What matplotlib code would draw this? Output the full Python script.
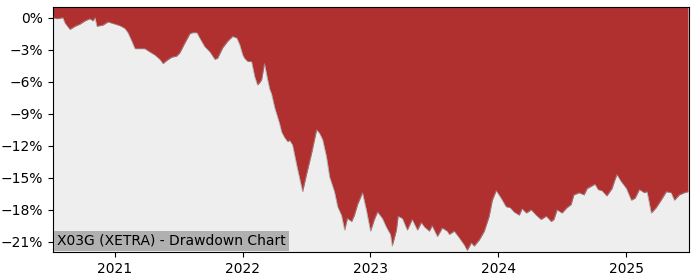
import matplotlib
matplotlib.use("Agg")
import matplotlib.pyplot as plt
import matplotlib.dates as mdates
import matplotlib.ticker as mticker
import pandas as pd

dates = [
    "2020-07-08", "2020-07-19", "2020-08-05", "2020-08-11", "2020-08-25", "2020-09-09",
    "2020-09-23", "2020-10-07", "2020-10-21", "2020-10-30", "2020-11-05", "2020-11-10",
    "2020-11-27", "2020-12-12", "2021-01-01", "2021-01-15", "2021-01-29", "2021-02-07",
    "2021-02-18", "2021-02-27", "2021-03-13", "2021-03-27", "2021-04-10", "2021-04-25",
    "2021-05-09", "2021-05-18", "2021-05-29", "2021-06-12", "2021-06-26", "2021-07-05",
    "2021-07-19", "2021-08-03", "2021-08-11", "2021-08-23", "2021-08-31", "2021-09-14",
    "2021-09-29", "2021-10-13", "2021-10-21", "2021-11-05", "2021-11-19", "2021-12-03",
    "2021-12-15", "2021-12-23", "2022-01-01", "2022-01-06", "2022-01-15", "2022-01-26",
    "2022-02-04", "2022-02-12", "2022-02-18", "2022-02-24", "2022-03-04", "2022-03-13",
    "2022-03-19", "2022-03-24", "2022-04-02", "2022-04-16", "2022-04-22", "2022-04-30",
    "2022-05-09", "2022-05-15", "2022-05-23", "2022-06-06", "2022-06-21", "2022-07-02",
    "2022-07-16", "2022-07-31", "2022-08-08", "2022-08-17", "2022-08-28", "2022-09-06",
    "2022-09-20", "2022-09-29", "2022-10-10", "2022-10-19", "2022-10-27", "2022-11-08",
    "2022-11-16", "2022-11-25", "2022-12-09", "2022-12-20", "2023-01-01", "2023-01-12",
    "2023-01-21", "2023-02-04", "2023-02-15", "2023-02-27", "2023-03-04", "2023-03-16",
    "2023-03-21", "2023-04-02", "2023-04-16", "2023-04-30", "2023-05-15", "2023-05-26",
    "2023-06-04", "2023-06-18", "2023-06-26", "2023-07-11", "2023-07-25", "2023-08-08",
    "2023-08-14", "2023-08-28", "2023-09-11", "2023-09-26", "2023-10-04", "2023-10-16",
    "2023-10-24", "2023-11-08", "2023-11-22", "2023-12-06", "2023-12-15", "2023-12-26",
    "2024-01-09", "2024-01-23", "2024-02-04", "2024-02-15", "2024-03-01", "2024-03-09",
    "2024-03-21", "2024-04-04", "2024-04-18", "2024-05-02", "2024-05-17", "2024-05-31",
    "2024-06-08", "2024-06-17", "2024-07-01", "2024-07-15", "2024-07-27", "2024-08-04",
    "2024-08-19", "2024-09-02", "2024-09-11", "2024-09-22", "2024-10-03", "2024-10-12",
    "2024-10-23", "2024-11-06", "2024-11-21", "2024-11-29", "2024-12-05", "2024-12-16",
    "2025-01-01", "2025-01-15", "2025-01-26", "2025-02-07", "2025-02-21", "2025-03-01",
    "2025-03-13", "2025-03-27", "2025-04-10", "2025-04-25", "2025-05-09", "2025-05-18",
    "2025-06-01", "2025-06-15", "2025-06-26",
]

drawdown = [
    0.0, -0.1, 0.0, -0.5, -1.1, -0.8,
    -0.6, -0.3, -0.1, -0.3, 0.0, -0.8,
    -0.7, -0.4, -0.6, -0.75, -1.0, -1.4,
    -2.2, -2.9, -2.9, -2.9, -3.2, -3.5,
    -3.9, -4.3, -4.0, -3.7, -3.6, -3.3,
    -2.4, -1.5, -1.4, -1.4, -1.9, -2.7,
    -3.2, -3.9, -3.8, -2.8, -2.2, -1.75,
    -1.9, -2.5, -3.5, -3.8, -4.1, -4.1,
    -5.5, -6.3, -6.1, -5.8, -4.3, -5.8,
    -6.7, -7.1, -8.4, -9.9, -10.7, -11.2,
    -11.6, -11.5, -11.9, -14.1, -16.3, -14.7,
    -12.8, -10.5, -10.8, -11.4, -13.0, -14.9,
    -16.3, -17.7, -18.5, -19.9, -18.8, -19.1,
    -18.5, -17.5, -16.4, -18.0, -20.0, -18.9,
    -18.2, -18.8, -19.6, -20.3, -21.4, -19.9,
    -18.6, -18.8, -19.9, -18.9, -19.9, -19.2,
    -19.6, -20.0, -19.5, -20.5, -19.7, -20.0,
    -20.3, -20.0, -20.6, -21.3, -21.8, -21.1,
    -21.4, -20.8, -20.0, -18.6, -17.1, -16.2,
    -16.9, -17.7, -17.8, -18.2, -18.5, -17.9,
    -18.3, -18.0, -18.5, -18.9, -18.6, -19.1,
    -18.9, -18.0, -18.3, -17.8, -17.5, -16.6,
    -16.4, -16.6, -16.0, -15.8, -15.6, -16.1,
    -16.2, -16.7, -16.0, -15.2, -14.7, -15.3,
    -16.0, -17.1, -16.9, -16.1, -16.4, -16.3,
    -18.3, -17.8, -17.1, -16.3, -16.4, -17.1,
    -16.6, -16.4, -16.3,
]

title = "X03G (XETRA) - Drawdown Chart"
ytick_vals = [0, -3, -6, -9, -12, -15, -18, -21]

x = pd.to_datetime(dates)

fig = plt.figure(figsize=(7, 2.8), dpi=100)
ax = fig.add_axes([53 / 700, 28 / 280, 636 / 700, 245 / 280])
ax.set_facecolor("#eeeeee")

ax.fill_between(x, drawdown, 1.5, color="#b03030", linewidth=0)
ax.plot(x, drawdown, color="#999999", linewidth=0.6, alpha=0.7)

ax.set_xlim(x[0], x[-1] + pd.Timedelta(days=3))
ax.set_ylim(-21.95, 1.0)
ax.set_yticks(ytick_vals)
ax.yaxis.set_major_formatter(mticker.FuncFormatter(lambda v, p: f"{int(round(v))}%".replace("-", "\u2212")))
ax.xaxis.set_major_locator(mdates.YearLocator())
ax.xaxis.set_major_formatter(mdates.DateFormatter("%Y"))
ax.tick_params(labelsize=10)

ax.text(4 / 636, 4 / 245, title, transform=ax.transAxes, fontsize=10,
        ha="left", va="bottom",
        bbox=dict(facecolor="#b0b0b0", edgecolor="none", pad=2.5))

fig.savefig("out.png", dpi=100)
